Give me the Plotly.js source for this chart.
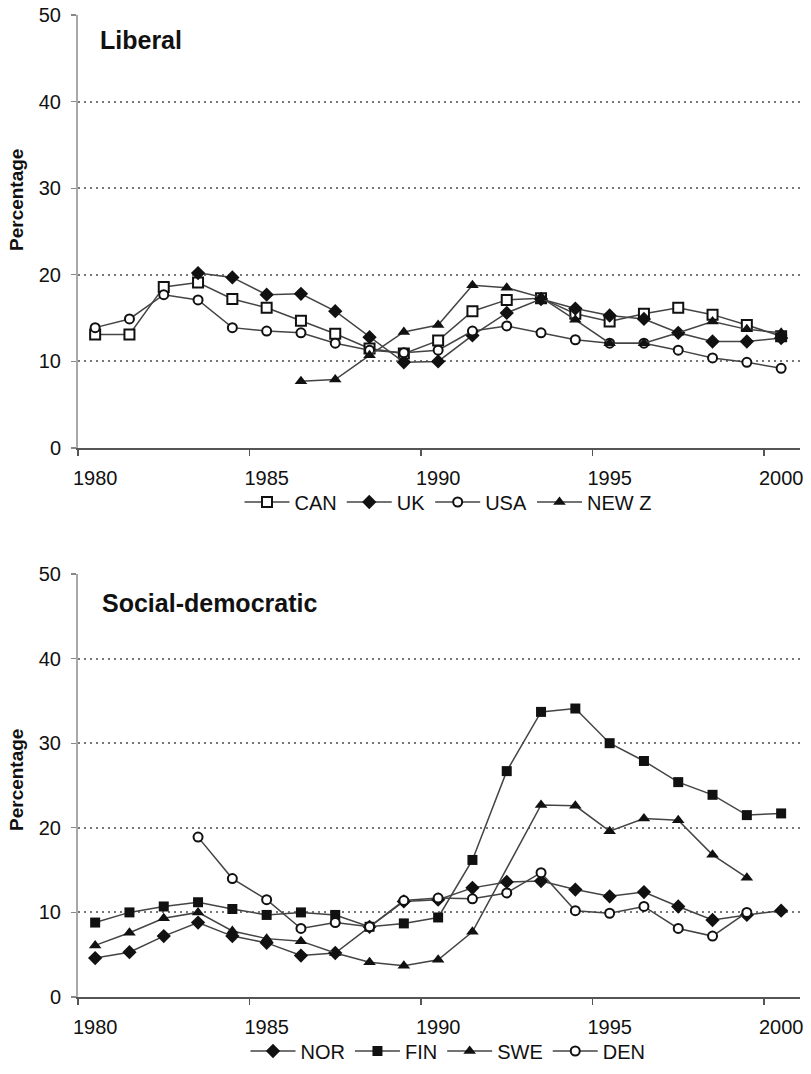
<!DOCTYPE html>
<html><head><meta charset="utf-8">
<script src="https://cdn.plot.ly/plotly-3.0.1.min.js"></script>
<style>html,body{margin:0;padding:0;background:#fff}#chart{width:811px;height:1074px}</style>
</head><body><div id="chart"></div>
<script>
// ---- data ----
const years = [1980,1981,1982,1983,1984,1985,1986,1987,1988,1989,1990,1991,1992,1993,1994,1995,1996,1997,1998,1999,2000];
const tickYears = [1980,1985,1990,1995,2000];
const tickLabels = ['1980','1985','1990','1995','2000'];
const yTicks = [0,10,20,30,40,50];
const yTickLabels = ['0','10','20','30','40','50'];

// Liberal
const can  = [13.1,13.1,18.6,19.1,17.2,16.2,14.7,13.2,11.5,10.9,12.4,15.8,17.1,17.3,15.5,14.6,15.5,16.2,15.4,14.2,12.9];
const uk   = [null,null,null,20.2,19.7,17.7,17.8,15.8,12.8,9.9,10.0,13.0,15.6,17.2,16.1,15.3,14.9,13.3,12.3,12.3,12.7];
const usa  = [13.9,14.9,17.7,17.1,13.9,13.5,13.3,12.1,11.3,11.0,11.3,13.5,14.1,13.3,12.5,12.1,12.1,11.3,10.4,9.9,9.2];
const newz = [null,null,null,null,null,null,7.7,7.9,10.7,13.4,14.2,18.8,18.5,17.4,14.8,12.1,12.1,13.3,14.6,13.7,13.3];

// Social-democratic
const nor = [4.6,5.3,7.2,8.8,7.2,6.4,4.9,5.2,8.3,11.3,11.5,12.9,13.6,13.7,12.7,11.9,12.4,10.7,9.1,9.7,10.2];
const fin = [8.8,10.0,10.7,11.2,10.4,9.7,10.0,9.7,8.3,8.7,9.4,16.2,26.7,33.7,34.1,30.0,27.9,25.4,23.9,21.5,21.7];
const swe = [6.1,7.6,9.3,10.0,7.8,6.9,6.6,5.2,4.1,3.7,4.4,7.7,null,22.7,22.6,19.6,21.1,20.9,16.8,14.1,null];
const den = [null,null,null,18.9,14.0,11.5,8.1,8.8,8.3,11.4,11.7,11.6,12.3,14.7,10.2,9.9,10.7,8.1,7.2,10.0,null];

// ---- styling helpers ----
const LINE = {color:'#444', width:1.5};
const FONT = 'Liberation Sans, Arial, Helvetica, sans-serif';
function mk(sym){
  if(sym==='square') return {symbol:'square', size:10, color:'#fff', line:{color:'#111', width:2}};
  if(sym==='circle') return {symbol:'circle', size:9, color:'#fff', line:{color:'#111', width:2}};
  if(sym==='diamond') return {symbol:'diamond', size:11, color:'#111', line:{color:'#111', width:0}};
  if(sym==='triangle') return {symbol:'triangle-up', size:11, color:'#111', line:{color:'#111', width:0}};
  if(sym==='fsquare') return {symbol:'square', size:10, color:'#111', line:{color:'#111', width:0}};
}
function tr(name, y, sym, ax, leg){
  return {type:'scatter', mode:'lines+markers', name:name, x:years, y:y,
    connectgaps:true, line:LINE, marker:mk(sym),
    xaxis:ax[0], yaxis:ax[1], legend:leg};
}
const traces = [
  tr('CAN', can, 'square', ['x','y'], 'legend'),
  tr('UK', uk, 'diamond', ['x','y'], 'legend'),
  tr('USA', usa, 'circle', ['x','y'], 'legend'),
  tr('NEW Z', newz, 'triangle', ['x','y'], 'legend'),
  tr('NOR', nor, 'diamond', ['x2','y2'], 'legend2'),
  tr('FIN', fin, 'fsquare', ['x2','y2'], 'legend2'),
  tr('SWE', swe, 'triangle', ['x2','y2'], 'legend2'),
  tr('DEN', den, 'circle', ['x2','y2'], 'legend2')
];

const W = 811, H = 1074;
const xDom = [78/W, 800/W];
const topDom = [1-448/H, 1-15/H];
const botDom = [1-997/H, 1-574/H];

function xa(anchor){
  return {domain:xDom, anchor:anchor, range:[1979.5, 2000.55], autorange:false,
    tickmode:'array', tickvals:tickYears, ticktext:tickLabels, ticks:'',
    ticklabelstandoff:11,
    minor:{tickmode:'array', tickvals:tickYears.map(v=>v-0.5), ticks:'outside', ticklen:6, tickwidth:1.2, tickcolor:'#555', showgrid:false},
    showline:true, linecolor:'#555', linewidth:1.8, showgrid:false, zeroline:false,
    tickfont:{family:FONT, size:20, color:'#111'}, fixedrange:true};
}
function ya(anchor, dom){
  return {domain:dom, anchor:anchor, range:[0,50], autorange:false,
    tickmode:'array', tickvals:yTicks, ticktext:yTickLabels,
    ticks:'outside', ticklen:5, tickwidth:1.2, tickcolor:'#888', ticklabelstandoff:6,
    showline:true, linecolor:'#a8a8a8', linewidth:2,
    showgrid:true, gridcolor:'#777', gridwidth:2, griddash:'2px,4px', zeroline:false,
    tickfont:{family:FONT, size:20, color:'#111'}, fixedrange:true};
}

const legendBase = {orientation:'h', xanchor:'center', yanchor:'middle', x:448/W,
  font:{family:FONT, size:20, color:'#111'}, itemwidth:45, bgcolor:'rgba(0,0,0,0)', traceorder:'normal'};

const layout = {
  width:W, height:H, margin:{l:0,r:0,t:0,b:0},
  paper_bgcolor:'#fff', plot_bgcolor:'#fff',
  font:{family:FONT, color:'#111'},
  xaxis:xa('y'), yaxis:ya('x', topDom),
  xaxis2:xa('y2'), yaxis2:ya('x2', botDom),
  legend:Object.assign({}, legendBase, {y:1-502/H}),
  legend2:Object.assign({}, legendBase, {y:1-1051/H}),
  showlegend:true,
  annotations:[
    {text:'<b>Liberal</b>', xref:'paper', yref:'paper', x:98/W, y:1-40/H, xanchor:'left', yanchor:'middle', showarrow:false, font:{family:FONT, size:25, color:'#111'}},
    {text:'<b>Social-democratic</b>', xref:'paper', yref:'paper', x:100/W, y:1-603/H, xanchor:'left', yanchor:'middle', showarrow:false, font:{family:FONT, size:25, color:'#111'}},
    {text:'<b>Percentage</b>', xref:'paper', yref:'paper', x:16/W, y:1-200/H, xanchor:'center', yanchor:'middle', textangle:-90, showarrow:false, font:{family:FONT, size:19, color:'#111'}},
    {text:'<b>Percentage</b>', xref:'paper', yref:'paper', x:16/W, y:1-780/H, xanchor:'center', yanchor:'middle', textangle:-90, showarrow:false, font:{family:FONT, size:19, color:'#111'}}
  ]
};

Plotly.newPlot('chart', traces, layout, {displayModeBar:false, staticPlot:true});
</script>
</body></html>
